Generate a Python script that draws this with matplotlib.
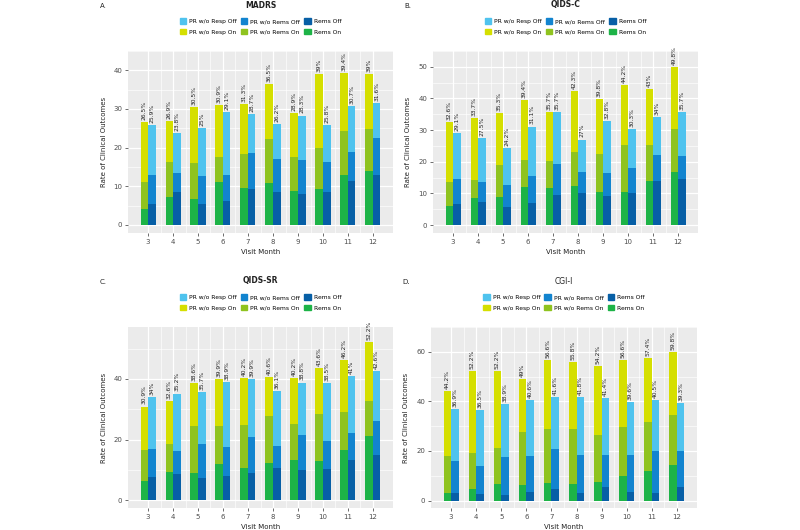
import numpy as np
import matplotlib.pyplot as plt
from matplotlib.patches import Patch

months = [3, 4, 5, 6, 7, 8, 9, 10, 11, 12]

# A. MADRS  (rems = Rems, resp = top of PR w/o Rems, total = bar top / label)
madrs_rems_on = [4.0, 7.1, 6.7, 11.1, 9.6, 10.8, 8.8, 9.2, 12.9, 14.0]
madrs_resp_on = [11.0, 16.3, 15.9, 17.5, 18.3, 22.2, 17.6, 20.0, 24.2, 24.8]
madrs_total_on = [26.5, 26.9, 30.5, 30.9, 31.3, 36.5, 28.9, 39, 39.4, 39]
madrs_rems_off = [5.5, 8.4, 5.5, 6.1, 9.4, 8.6, 7.9, 8.4, 11.3, 13.0]
madrs_resp_off = [12.9, 13.3, 12.6, 13.0, 18.6, 17.1, 16.8, 16.3, 18.8, 22.5]
madrs_total_off = [25.9, 23.8, 25, 29.1, 28.7, 26.2, 28.3, 25.8, 30.7, 31.6]

# B. QIDS-C
qidsc_rems_on = [5.9, 8.5, 8.9, 12.1, 11.6, 12.2, 10.5, 10.3, 13.9, 16.9]
qidsc_resp_on = [13.6, 14.3, 18.9, 20.5, 20.2, 23.2, 22.6, 25.3, 25.3, 30.2]
qidsc_total_on = [32.6, 33.7, 35.3, 39.4, 35.7, 42.3, 39.8, 44.2, 43, 49.8]
qidsc_rems_off = [6.6, 7.4, 5.8, 7.0, 9.5, 10.0, 9.2, 10.0, 13.9, 14.5]
qidsc_resp_off = [14.7, 13.6, 12.7, 15.6, 19.3, 16.8, 16.4, 18.1, 22.3, 21.8]
qidsc_total_off = [29.1, 27.5, 24.2, 31.1, 35.7, 27, 32.8, 30.3, 34, 35.7]

# C. QIDS-SR
qidssr_rems_on = [6.3, 9.4, 8.9, 11.9, 10.8, 12.3, 13.2, 12.9, 16.5, 21.2]
qidssr_resp_on = [16.5, 18.7, 24.4, 24.4, 24.9, 27.7, 25.2, 28.5, 29.1, 32.7]
qidssr_total_on = [30.9, 32.6, 38.6, 39.9, 40.2, 40.6, 40.2, 43.6, 46.2, 52.2]
qidssr_rems_off = [7.8, 8.6, 7.5, 8.0, 9.1, 10.8, 9.9, 10.3, 13.2, 15.1]
qidssr_resp_off = [16.8, 16.3, 18.7, 17.6, 20.9, 17.9, 21.6, 19.6, 22.2, 26.1]
qidssr_total_off = [34, 35.2, 35.7, 38.9, 39.9, 36.1, 38.8, 38.5, 41, 42.6]

# D. CGI-I
cgi_rems_on = [3.1, 4.6, 6.6, 6.3, 7.0, 6.6, 7.6, 9.8, 11.8, 14.3]
cgi_resp_on = [17.8, 19.2, 21.2, 27.6, 28.9, 28.9, 26.4, 29.6, 31.7, 34.6]
cgi_total_on = [44.2, 52.2, 52.2, 49, 56.6, 55.8, 54.2, 56.6, 57.4, 59.8]
cgi_rems_off = [3.1, 2.8, 2.4, 3.6, 4.6, 3.0, 5.6, 3.6, 3.0, 5.6]
cgi_resp_off = [15.9, 14.0, 17.4, 17.9, 20.9, 18.4, 18.4, 18.4, 20.1, 19.8]
cgi_total_off = [36.9, 36.5, 38.9, 40.6, 41.6, 41.8, 41.4, 39.6, 40.5, 39.3]

col_rems_on = '#1db347'
col_prr_on = '#8fc31f'
col_resp_on = '#d5df00'
col_rems_off = '#075fa6'
col_prr_off = '#1284cf'
col_resp_off = '#4fc3ee'

W, H = 800, 530
fig = plt.figure(figsize=(8, 5.3), dpi=100)


def add_panel(box, letter, title, title_bold, on, off, ylim, ystep):
    x0, y0, x1, y1 = box
    ax = fig.add_axes([x0 / W, 1 - y1 / H, (x1 - x0) / W, (y1 - y0) / H])
    ax.set_facecolor('#ebebeb')
    for s in ax.spines.values():
        s.set_visible(False)
    x = np.array(months, dtype=float)
    bw = 0.3
    for vals, xs, cols in [(on, x - bw / 2, (col_rems_on, col_prr_on, col_resp_on)),
                           (off, x + bw / 2, (col_rems_off, col_prr_off, col_resp_off))]:
        rems, resp, total = [np.array(v, dtype=float) for v in vals]
        ax.bar(xs, rems, bw, color=cols[0], zorder=3)
        ax.bar(xs, resp - rems, bw, bottom=rems, color=cols[1], zorder=3)
        ax.bar(xs, total - resp, bw, bottom=resp, color=cols[2], zorder=3)
        for xi, t in zip(xs, total):
            ax.text(xi, t + 0.012 * (ylim[1] - ylim[0]), f"{t:g}%", rotation=90,
                    ha='center', va='bottom', fontsize=4.3, color='#222222', zorder=4)
    ax.set_xlim(2.2, 12.8)
    ax.set_ylim(*ylim)
    ax.set_xticks(months)
    ax.set_xticks([m + 0.5 for m in months[:-1]], minor=True)
    yt = np.arange(0, ylim[1], ystep)
    ax.set_yticks(yt)
    ax.set_yticks(yt + ystep / 2, minor=True)
    ax.grid(which='major', color='white', lw=0.9, zorder=0)
    ax.grid(which='minor', color='white', lw=0.45, zorder=0)
    ax.set_axisbelow(True)
    ax.tick_params(which='major', length=2, width=0.5, color='#333333',
                   labelsize=5, labelcolor='#4d4d4d', pad=2)
    ax.tick_params(which='minor', length=0)
    ax.set_ylabel('Rate of Clinical Outcomes', fontsize=5, color='#222222', labelpad=5)
    ax.set_xlabel('Visit Month', fontsize=5, color='#222222', labelpad=3)

    cx = (x0 + x1) / 2
    fig.text(cx / W, 1 - (y0 - 46) / H, title, ha='center', va='center', fontsize=5.5,
             fontweight='bold' if title_bold else 'normal', color='#222222')
    fig.text((x0 - 25) / W, 1 - (y0 - 45) / H, letter, ha='center', va='center',
             fontsize=5, color='#222222')

    handles = [Patch(color=col_resp_off, label='PR w/o Resp Off'),
               Patch(color=col_resp_on, label='PR w/o Resp On'),
               Patch(color=col_prr_off, label='PR w/o Rems Off'),
               Patch(color=col_prr_on, label='PR w/o Rems On'),
               Patch(color=col_rems_off, label='Rems Off'),
               Patch(color=col_rems_on, label='Rems On')]
    ax.legend(handles=handles, ncol=3, loc='center', bbox_to_anchor=(0.5, 1 + 24.5 / (y1 - y0)),
              frameon=False, fontsize=4.3, handlelength=1.05, handleheight=1.05,
              handletextpad=0.5, columnspacing=0.7, labelspacing=0.75, borderpad=0)
    return ax


add_panel((128, 51, 393, 233), 'A.', 'MADRS', True,
          (madrs_rems_on, madrs_resp_on, madrs_total_on),
          (madrs_rems_off, madrs_resp_off, madrs_total_off), (-2.1, 43.4), 10)
add_panel((433, 51, 698, 233), 'B.', 'QIDS-C', True,
          (qidsc_rems_on, qidsc_resp_on, qidsc_total_on),
          (qidsc_rems_off, qidsc_resp_off, qidsc_total_off), (-2.5, 54.7), 10)
add_panel((128, 327, 393, 508), 'C.', 'QIDS-SR', True,
          (qidssr_rems_on, qidssr_resp_on, qidssr_total_on),
          (qidssr_rems_off, qidssr_resp_off, qidssr_total_off), (-2.5, 57.1), 20)
add_panel((431, 327, 697, 508), 'D.', 'CGI-I', False,
          (cgi_rems_on, cgi_resp_on, cgi_total_on),
          (cgi_rems_off, cgi_resp_off, cgi_total_off), (-3.0, 65.0), 20)

fig.savefig('out.png', dpi=100)
